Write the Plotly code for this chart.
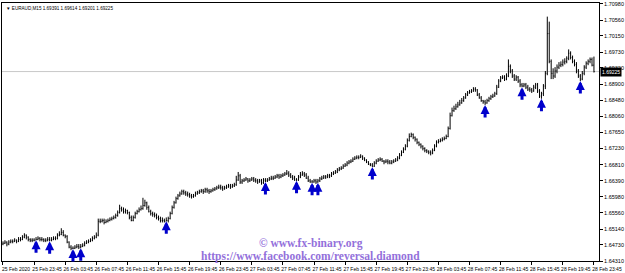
import plotly.graph_objects as go

symbol_title = "▼ EURAUD,M15 1.69391 1.69614 1.69201 1.69225"

first_open = 1.6475
closes = [
    1.6477,1.6480,1.6475,1.6480,1.6482,1.6482,1.6485,1.6482,1.6487,1.6487,
    1.6493,1.6498,1.6493,1.6487,1.6485,1.6485,1.6485,1.6487,1.6490,1.6487,
    1.6487,1.6485,1.6485,1.6487,1.6485,1.6487,1.6490,1.6490,1.6498,1.6500,
    1.6505,1.6498,1.6495,1.6480,1.6467,1.6464,1.6464,1.6467,1.6469,1.6467,
    1.6469,1.6472,1.6477,1.6480,1.6482,1.6485,1.6490,1.6493,1.6498,1.6534,
    1.6534,1.6536,1.6531,1.6534,1.6536,1.6539,1.6541,1.6544,1.6549,1.6557,
    1.6567,1.6564,1.6559,1.6562,1.6557,1.6544,1.6536,1.6544,1.6554,1.6559,
    1.6564,1.6567,1.6575,1.6582,1.6570,1.6559,1.6554,1.6552,1.6549,1.6544,
    1.6541,1.6536,1.6536,1.6534,1.6536,1.6541,1.6554,1.6570,1.6582,1.6593,
    1.6600,1.6605,1.6611,1.6608,1.6605,1.6603,1.6600,1.6598,1.6600,1.6605,
    1.6608,1.6611,1.6613,1.6611,1.6616,1.6613,1.6611,1.6613,1.6616,1.6618,
    1.6621,1.6623,1.6621,1.6618,1.6621,1.6623,1.6626,1.6623,1.6626,1.6629,
    1.6641,1.6652,1.6636,1.6639,1.6641,1.6644,1.6639,1.6641,1.6644,1.6641,
    1.6639,1.6636,1.6639,1.6634,1.6641,1.6639,1.6641,1.6644,1.6646,1.6646,
    1.6649,1.6652,1.6649,1.6652,1.6654,1.6657,1.6659,1.6654,1.6649,1.6646,
    1.6641,1.6641,1.6649,1.6654,1.6657,1.6654,1.6646,1.6639,1.6636,1.6636,
    1.6639,1.6636,1.6639,1.6644,1.6646,1.6649,1.6649,1.6652,1.6652,1.6657,
    1.6659,1.6662,1.6667,1.6670,1.6672,1.6677,1.6680,1.6685,1.6688,1.6690,
    1.6695,1.6698,1.6700,1.6700,1.6703,1.6698,1.6693,1.6688,1.6682,1.6680,
    1.6677,1.6685,1.6690,1.6693,1.6695,1.6690,1.6688,1.6690,1.6688,1.6685,
    1.6688,1.6690,1.6693,1.6698,1.6705,1.6713,1.6721,1.6729,1.6744,1.6754,
    1.6759,1.6752,1.6747,1.6739,1.6734,1.6729,1.6723,1.6718,1.6716,1.6713,
    1.6711,1.6718,1.6729,1.6739,1.6741,1.6744,1.6747,1.6749,1.6754,1.6775,
    1.6808,1.6821,1.6826,1.6831,1.6836,1.6841,1.6847,1.6854,1.6862,1.6867,
    1.6870,1.6872,1.6877,1.6875,1.6862,1.6854,1.6847,1.6844,1.6841,1.6847,
    1.6852,1.6857,1.6859,1.6865,1.6882,1.6898,1.6906,1.6908,1.6903,1.6911,
    1.6936,1.6924,1.6911,1.6903,1.6908,1.6898,1.6888,1.6885,1.6888,1.6882,
    1.6877,1.6875,1.6872,1.6882,1.6888,1.6872,1.6859,1.6865,1.6885,1.6918,
    1.7021,1.6949,1.6918,1.6911,1.6924,1.6934,1.6939,1.6941,1.6947,1.6949,
    1.6957,1.6970,1.6959,1.6949,1.6941,1.6924,1.6911,1.6903,1.6918,1.6934,
    1.6944,1.6949,1.6954,1.69391,1.69225,
]
highs = [
    1.6482,1.6485,1.6482,1.6485,1.6487,1.6487,1.6490,1.6487,1.6493,1.6493,
    1.6498,1.6503,1.6500,1.6495,1.6490,1.6490,1.6490,1.6493,1.6495,1.6493,
    1.6493,1.6490,1.6490,1.6493,1.6493,1.6493,1.6495,1.6495,1.6503,1.6508,
    1.6516,1.6511,1.6500,1.6498,1.6482,1.6472,1.6469,1.6472,1.6475,1.6475,
    1.6475,1.6477,1.6482,1.6485,1.6487,1.6490,1.6495,1.6498,1.6505,1.6541,
    1.6541,1.6541,1.6541,1.6539,1.6541,1.6544,1.6546,1.6549,1.6554,1.6562,
    1.6577,1.6572,1.6570,1.6567,1.6564,1.6559,1.6549,1.6549,1.6559,1.6564,
    1.6570,1.6575,1.6595,1.6590,1.6585,1.6575,1.6564,1.6559,1.6557,1.6554,
    1.6549,1.6546,1.6544,1.6541,1.6544,1.6546,1.6559,1.6575,1.6587,1.6598,
    1.6605,1.6611,1.6616,1.6616,1.6613,1.6611,1.6608,1.6605,1.6605,1.6611,
    1.6613,1.6616,1.6618,1.6618,1.6621,1.6621,1.6618,1.6618,1.6621,1.6623,
    1.6626,1.6629,1.6629,1.6626,1.6626,1.6629,1.6631,1.6631,1.6631,1.6634,
    1.6652,1.6662,1.6657,1.6644,1.6646,1.6649,1.6646,1.6646,1.6649,1.6649,
    1.6646,1.6644,1.6644,1.6644,1.6646,1.6646,1.6646,1.6649,1.6652,1.6652,
    1.6654,1.6657,1.6657,1.6657,1.6659,1.6662,1.6667,1.6664,1.6659,1.6654,
    1.6652,1.6646,1.6654,1.6662,1.6664,1.6662,1.6659,1.6652,1.6644,1.6641,
    1.6644,1.6644,1.6644,1.6649,1.6652,1.6654,1.6654,1.6657,1.6657,1.6662,
    1.6664,1.6667,1.6672,1.6675,1.6677,1.6682,1.6685,1.6690,1.6693,1.6695,
    1.6700,1.6703,1.6705,1.6705,1.6708,1.6705,1.6700,1.6695,1.6690,1.6685,
    1.6685,1.6690,1.6695,1.6698,1.6700,1.6698,1.6693,1.6695,1.6695,1.6693,
    1.6693,1.6695,1.6698,1.6703,1.6711,1.6718,1.6726,1.6734,1.6749,1.6762,
    1.6764,1.6762,1.6754,1.6749,1.6741,1.6736,1.6731,1.6726,1.6721,1.6718,
    1.6718,1.6723,1.6734,1.6744,1.6747,1.6749,1.6752,1.6754,1.6759,1.6780,
    1.6816,1.6829,1.6834,1.6839,1.6844,1.6849,1.6854,1.6859,1.6867,1.6872,
    1.6875,1.6877,1.6882,1.6882,1.6877,1.6867,1.6859,1.6849,1.6849,1.6852,
    1.6857,1.6862,1.6865,1.6870,1.6888,1.6903,1.6911,1.6913,1.6913,1.6918,
    1.6954,1.6941,1.6929,1.6916,1.6913,1.6911,1.6903,1.6893,1.6893,1.6893,
    1.6888,1.6882,1.6880,1.6888,1.6893,1.6893,1.6877,1.6870,1.6890,1.6924,
    1.7065,1.7052,1.6954,1.6931,1.6934,1.6941,1.6947,1.6949,1.6954,1.6957,
    1.6962,1.6980,1.6975,1.6964,1.6954,1.6947,1.6929,1.6916,1.6924,1.6939,
    1.6949,1.6954,1.6959,1.6959,1.69614,
]
lows = [
    1.6472,1.6475,1.6469,1.6472,1.6477,1.6477,1.6480,1.6477,1.6480,1.6482,
    1.6485,1.6490,1.6487,1.6482,1.6480,1.6480,1.6482,1.6485,1.6485,1.6482,
    1.6482,1.6480,1.6480,1.6482,1.6482,1.6482,1.6485,1.6485,1.6487,1.6495,
    1.6498,1.6495,1.6490,1.6477,1.6464,1.6459,1.6462,1.6462,1.6464,1.6462,
    1.6464,1.6467,1.6469,1.6475,1.6477,1.6480,1.6482,1.6487,1.6490,1.6495,
    1.6529,1.6531,1.6526,1.6529,1.6531,1.6534,1.6536,1.6539,1.6541,1.6546,
    1.6554,1.6559,1.6554,1.6554,1.6552,1.6539,1.6534,1.6534,1.6541,1.6552,
    1.6557,1.6562,1.6564,1.6572,1.6564,1.6557,1.6549,1.6546,1.6544,1.6539,
    1.6536,1.6531,1.6531,1.6531,1.6534,1.6531,1.6539,1.6552,1.6567,1.6580,
    1.6590,1.6598,1.6603,1.6603,1.6600,1.6598,1.6595,1.6593,1.6595,1.6598,
    1.6603,1.6605,1.6608,1.6605,1.6608,1.6608,1.6605,1.6608,1.6611,1.6613,
    1.6616,1.6618,1.6616,1.6613,1.6616,1.6618,1.6621,1.6618,1.6621,1.6623,
    1.6626,1.6639,1.6631,1.6631,1.6636,1.6639,1.6634,1.6636,1.6639,1.6636,
    1.6634,1.6631,1.6634,1.6629,1.6631,1.6636,1.6636,1.6639,1.6641,1.6641,
    1.6644,1.6646,1.6644,1.6646,1.6649,1.6652,1.6654,1.6649,1.6646,1.6641,
    1.6639,1.6639,1.6639,1.6646,1.6652,1.6649,1.6644,1.6636,1.6634,1.6634,
    1.6634,1.6631,1.6634,1.6636,1.6641,1.6644,1.6644,1.6646,1.6646,1.6649,
    1.6654,1.6657,1.6659,1.6664,1.6667,1.6670,1.6675,1.6677,1.6682,1.6685,
    1.6688,1.6693,1.6695,1.6695,1.6698,1.6693,1.6690,1.6685,1.6680,1.6677,
    1.6675,1.6675,1.6682,1.6688,1.6690,1.6688,1.6682,1.6685,1.6682,1.6682,
    1.6682,1.6685,1.6688,1.6690,1.6695,1.6703,1.6711,1.6718,1.6726,1.6741,
    1.6752,1.6747,1.6741,1.6734,1.6729,1.6723,1.6718,1.6713,1.6711,1.6708,
    1.6705,1.6708,1.6716,1.6726,1.6736,1.6739,1.6741,1.6744,1.6747,1.6752,
    1.6772,1.6806,1.6818,1.6823,1.6829,1.6834,1.6839,1.6844,1.6852,1.6859,
    1.6865,1.6867,1.6870,1.6870,1.6859,1.6852,1.6844,1.6839,1.6836,1.6839,
    1.6844,1.6849,1.6854,1.6857,1.6862,1.6880,1.6895,1.6903,1.6898,1.6900,
    1.6908,1.6918,1.6906,1.6898,1.6898,1.6893,1.6882,1.6882,1.6882,1.6877,
    1.6872,1.6870,1.6867,1.6870,1.6877,1.6867,1.6854,1.6852,1.6859,1.6877,
    1.6913,1.6944,1.6903,1.6903,1.6906,1.6918,1.6929,1.6934,1.6936,1.6941,
    1.6944,1.6952,1.6954,1.6944,1.6936,1.6918,1.6906,1.6898,1.6900,1.6913,
    1.6929,1.6939,1.6944,1.6936,1.69201,
]
opens = [first_open] + closes[:-1]

signal_bars = [17, 24, 36, 40, 84, 135, 151, 159, 162, 190, 248, 267, 277, 297]

price_ticks = [1.64310, 1.64730, 1.65140, 1.65560, 1.65980, 1.66390, 1.66810,
               1.67230, 1.67650, 1.68060, 1.68480, 1.68900, 1.69320, 1.69730,
               1.70150, 1.70560, 1.70980]
time_tick_bars = [0, 16, 32, 48, 64, 80, 96, 112, 128, 144, 160, 176, 192, 208,
                  224, 240, 256, 272, 288, 304]
time_tick_labels = ["25 Feb 2020", "25 Feb 23:45", "26 Feb 03:45", "26 Feb 07:45",
                    "26 Feb 11:45", "26 Feb 15:45", "26 Feb 19:45", "26 Feb 23:45",
                    "27 Feb 03:45", "27 Feb 07:45", "27 Feb 11:45", "27 Feb 15:45",
                    "27 Feb 19:45", "27 Feb 23:45", "28 Feb 03:45", "28 Feb 07:45",
                    "28 Feb 11:45", "28 Feb 15:45", "28 Feb 19:45", "28 Feb 23:45"]

bars = list(range(len(closes)))

fig = go.Figure()
fig.add_trace(go.Ohlc(
    x=bars, open=opens, high=highs, low=lows, close=closes,
    increasing=dict(line=dict(color="#000000", width=1)),
    decreasing=dict(line=dict(color="#000000", width=1)),
    tickwidth=0.3, hoverinfo="skip", showlegend=False,
))

last = closes[-1]
fig.add_shape(type="line", xref="paper", x0=0, x1=1, yref="y", y0=last, y1=last,
              line=dict(color="#c8c8c8", width=1), layer="below")

annotations = []
for b in signal_bars:
    annotations.append(dict(
        x=b, y=lows[b], xref="x", yref="y", text="", showarrow=True,
        ax=0, ay=14, axref="pixel", ayref="pixel",
        arrowhead=2, arrowsize=0.6, arrowwidth=3, arrowcolor="#0000cc", standoff=0,
    ))

annotations.append(dict(
    x=0, y=1, xref="paper", yref="paper", xanchor="left", yanchor="top",
    xshift=2, yshift=-1, text=symbol_title, showarrow=False,
    font=dict(family="Liberation Sans", size=4.6, color="#000000"),
))
annotations.append(dict(
    x=1, y=last, xref="paper", yref="y", xanchor="left", yanchor="middle",
    xshift=1, text=f"{last:.5f}", showarrow=False, bgcolor="#000000",
    borderpad=1, font=dict(family="Liberation Sans", size=5, color="#ffffff"),
))
annotations.append(dict(
    x=0.517, y=0.069, xref="paper", yref="paper", xanchor="center", yanchor="middle",
    text="<b>© www.fx-binary.org</b>", showarrow=False,
    font=dict(family="Liberation Serif", size=11.5, color="#9370db"),
))
annotations.append(dict(
    x=0.517, y=0.019, xref="paper", yref="paper", xanchor="center", yanchor="middle",
    text="<b>https://www.facebook.com/reversal.diamond</b>", showarrow=False,
    font=dict(family="Liberation Serif", size=11.5, color="#9370db"),
))

fig.update_layout(
    width=625, height=273,
    margin=dict(l=1, r=22, t=1, b=11),
    paper_bgcolor="#ffffff", plot_bgcolor="#ffffff",
    annotations=annotations,
    xaxis=dict(
        range=[-0.51, 306.6], rangeslider=dict(visible=False),
        tickmode="array", tickvals=time_tick_bars, ticktext=time_tick_labels,
        tickangle=0, ticklabeloverflow="allow",
        ticks="outside", ticklen=3, tickcolor="#000000",
        tickfont=dict(family="Liberation Sans", size=5, color="#000000"),
        ticklabelshift=13, ticklabelstandoff=0, showgrid=False, zeroline=False,
        showline=True, linecolor="#000000", linewidth=1, mirror=True,
    ),
    yaxis=dict(
        range=[1.64310, 1.71004], side="right",
        tickmode="array", tickvals=price_ticks,
        ticktext=[f"{v:.5f}" for v in price_ticks],
        ticklabeloverflow="allow",
        ticks="outside", ticklen=3, tickcolor="#000000",
        tickfont=dict(family="Liberation Sans", size=5.5, color="#000000"),
        showgrid=False, zeroline=False,
        showline=True, linecolor="#000000", linewidth=1, mirror=True,
    ),
)

fig.write_html("out.html")
